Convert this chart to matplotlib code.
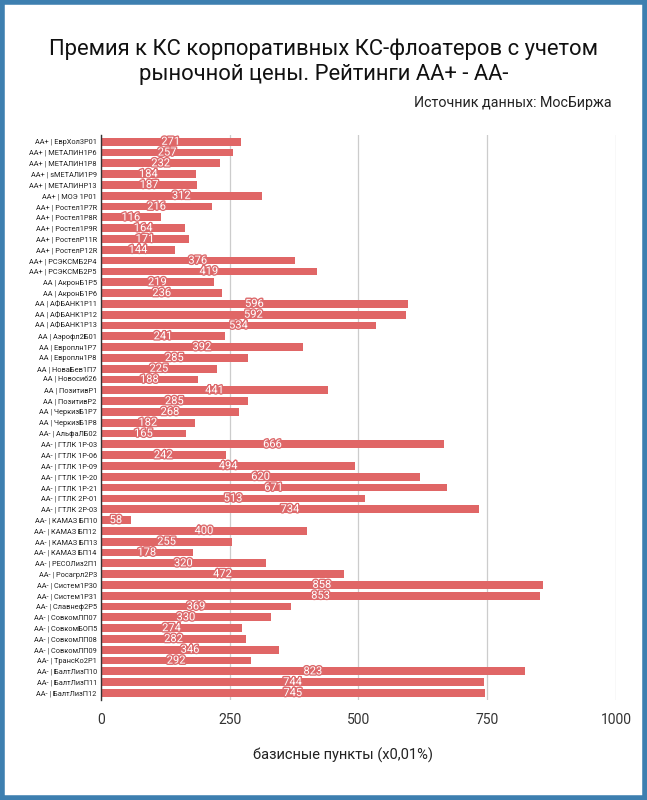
import numpy as np
import matplotlib.pyplot as plt
import matplotlib.patheffects as pe
from matplotlib.patches import Rectangle

plt.rcParams['font.family'] = ['Roboto', 'DejaVu Sans']

# bond names and spreads (bp)
bonds = [
    "AA+ | ЕврХол3Р01", "AA+ | МЕТАЛИН1Р6", "AA+ | МЕТАЛИН1Р8", "AA+ | sМЕТАЛИ1Р9",
    "AA+ | МЕТАЛИНР13", "AA+ | МОЭ 1Р01", "AA+ | Ростел1Р7R", "AA+ | Ростел1Р8R",
    "AA+ | Ростел1Р9R", "AA+ | РостелР11R", "AA+ | РостелР12R", "AA+ | РСЭКСМБ2Р4",
    "AA+ | РСЭКСМБ2Р5", "AA | АкронБ1Р5", "AA | АкронБ1Р6", "AA | АФБАНК1Р11",
    "AA | АФБАНК1Р12", "AA | АФБАНК1Р13", "AA | Аэрофл2Б01", "AA | Европлн1Р7",
    "AA | Европлн1Р8", "AA | НоваБев1П7", "AA | Новосиб26", "AA | ПозитивР1",
    "AA | ПозитивР2", "AA | ЧеркизБ1Р7", "AA | ЧеркизБ1Р8", "AA- | АльфаЛБ02",
    "AA- | ГТЛК 1Р-03", "AA- | ГТЛК 1Р-06", "AA- | ГТЛК 1Р-09", "AA- | ГТЛК 1Р-20",
    "AA- | ГТЛК 1Р-21", "AA- | ГТЛК 2Р-01", "AA- | ГТЛК 2Р-03", "AA- | КАМАЗ БП10",
    "AA- | КАМАЗ БП12", "AA- | КАМАЗ БП13", "AA- | КАМАЗ БП14", "AA- | РЕСОЛиз2П1",
    "AA- | Росагрл2Р3", "AA- | Систем1Р30", "AA- | Систем1Р31", "AA- | Славнеф2Р5",
    "AA- | СовкомЛП07", "AA- | СовкомБОП5", "AA- | СовкомЛП08", "AA- | СовкомЛП09",
    "AA- | ТрансКо2Р1", "AA- | БалтЛизП10", "AA- | БалтЛизП11", "AA- | БалтЛизП12",
]
spreads = [
    271, 257, 232, 184, 187, 312, 216, 116, 164, 171, 144, 376, 419,
    219, 236, 596, 592, 534, 241, 392, 285, 225, 188, 441, 285, 268, 182,
    165, 666, 242, 494, 620, 671, 513, 734, 58, 400, 255, 178, 320,
    472, 858, 853, 369, 330, 274, 282, 346, 292, 823, 744, 745,
]
x_ticks = [0, 250, 500, 750, 1000]

bar_color = '#e06666'

fig = plt.figure(figsize=(6.47, 8), dpi=100)
ax = fig.add_axes([0.156, 0.125, 0.796, 0.706])

y = np.arange(len(bonds))
ax.barh(y, spreads, height=0.72, color=bar_color, zorder=3)

for yi, v in zip(y, spreads):
    ax.text(v / 2, yi, str(v), ha='center', va='center', fontsize=8,
            color='white', zorder=4,
            path_effects=[pe.withStroke(linewidth=2, foreground='#dd6a6c')])

ax.set_yticks(y)
ax.set_yticklabels(bonds, fontsize=5.3, color='#222222')
ax.set_ylim(len(bonds) - 0.35, -0.6)
ax.set_xlim(0, 1000)
ax.set_xticks(x_ticks)
ax.set_xticklabels([str(t) for t in x_ticks], fontsize=10, color='#333333')
ax.tick_params(axis='both', length=0, pad=3)
ax.tick_params(axis='x', pad=9)

ax.grid(axis='x', color='#cccccc', linewidth=0.9, zorder=0)
for s in ['top', 'right', 'bottom']:
    ax.spines[s].set_visible(False)
ax.spines['left'].set_color('#333333')
ax.spines['left'].set_linewidth(1.0)
ax.spines['left'].set_zorder(5)

ax.set_xlabel('базисные пункты (х0,01%)', fontsize=10.5, color='#222222', labelpad=18)
ax.xaxis.set_label_coords(0.47, -0.085)

fig.text(0.5, 0.923, 'Премия к КС корпоративных КС-флоатеров с учетом\nрыночной цены. Рейтинги АА+ - АА-',
         ha='center', va='center', fontsize=15.8, color='#111111', linespacing=1.25)
fig.text(0.946, 0.871, 'Источник данных: МосБиржа', ha='right', va='center',
         fontsize=10.3, color='#222222')

# frame around the picture
fig.patches.append(Rectangle((0.003, 0.003), 0.994, 0.994, transform=fig.transFigure,
                             fill=False, edgecolor='#3d7fb0', linewidth=4))

fig.savefig('out.png', dpi=100)
